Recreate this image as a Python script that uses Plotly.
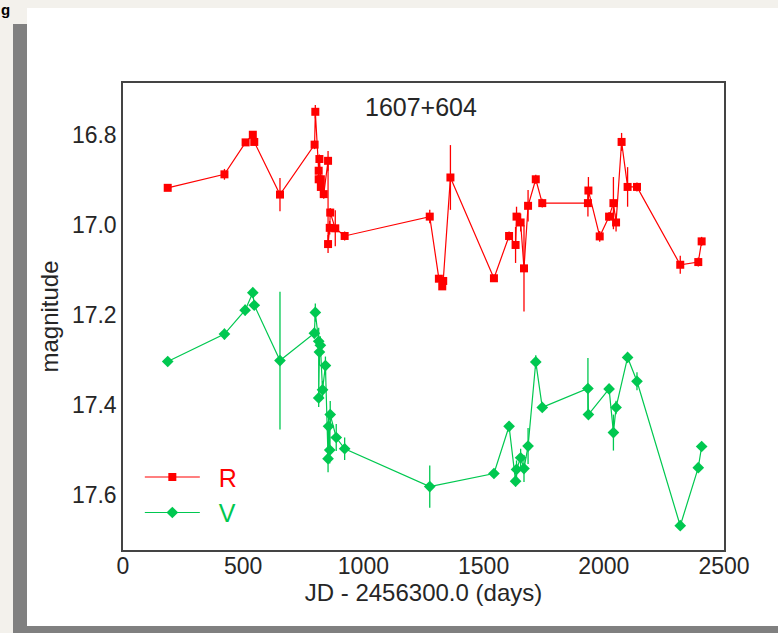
import plotly.graph_objects as go

# R band
r_days = [186, 422, 510, 540, 546, 653, 797, 800, 814, 814, 817, 823, 823, 835, 853, 853,
          860, 862, 883, 922, 1276, 1314, 1328, 1332, 1362, 1543, 1606, 1633, 1637, 1654,
          1668, 1685, 1717, 1744, 1934, 1936, 1983, 2022, 2040, 2051, 2074, 2099, 2138,
          2318, 2393, 2407]
r_mag = [16.917, 16.887, 16.816, 16.799, 16.815, 16.932, 16.821, 16.748, 16.879, 16.898,
         16.853, 16.898, 16.915, 16.931, 16.857, 17.042, 17.006, 16.972, 17.007, 17.024,
         16.981, 17.119, 17.136, 17.124, 16.894, 17.118, 17.024, 17.044, 16.981, 16.994,
         17.096, 16.957, 16.898, 16.951, 16.951, 16.923, 17.025, 16.981, 16.951, 16.994,
         16.815, 16.915, 16.915, 17.088, 17.082, 17.036]
r_err = [0.005, 0.012, 0.006, 0.006, 0.006, 0.037, 0.010, 0.015, 0.012, 0.010,
         0.010, 0.008, 0.010, 0.010, 0.022, 0.020, 0.015, 0.010, 0.040, 0.010,
         0.015, 0.008, 0.008, 0.008, 0.072, 0.008, 0.010, 0.040, 0.022, 0.020,
         0.096, 0.035, 0.010, 0.010, 0.030, 0.030, 0.012, 0.010, 0.058, 0.020,
         0.020, 0.044, 0.010, 0.020, 0.010, 0.010]

# V band
v_days = [186, 422, 508, 540, 546, 653, 796, 800, 814, 814, 817, 821, 830, 842, 853, 855,
          860, 862, 887, 922, 1276, 1543, 1606, 1633, 1637, 1654, 1668, 1685, 1717, 1744,
          1934, 1936, 2022, 2040, 2051, 2099, 2138, 2318, 2393, 2407]
v_mag = [17.303, 17.242, 17.189, 17.150, 17.178, 17.301, 17.240, 17.194, 17.258, 17.384,
         17.282, 17.267, 17.366, 17.312, 17.519, 17.447, 17.500, 17.421, 17.472, 17.497,
         17.581, 17.552, 17.447, 17.569, 17.543, 17.517, 17.541, 17.491, 17.304, 17.405,
         17.363, 17.421, 17.364, 17.461, 17.405, 17.294, 17.347, 17.668, 17.539, 17.492]
v_err = [0.006, 0.012, 0.012, 0.006, 0.008, 0.153, 0.012, 0.020, 0.030, 0.020,
         0.030, 0.020, 0.020, 0.020, 0.030, 0.020, 0.030, 0.030, 0.030, 0.025,
         0.047, 0.006, 0.010, 0.012, 0.020, 0.020, 0.030, 0.040, 0.015, 0.010,
         0.068, 0.010, 0.010, 0.040, 0.015, 0.010, 0.020, 0.006, 0.010, 0.008]

x_ticks = [0, 500, 1000, 1500, 2000, 2500]
y_ticks = [16.8, 17.0, 17.2, 17.4, 17.6]

RED = "#ff0000"
GREEN = "#00c850"
FONT = "Liberation Sans, Arial, sans-serif"

W, H = 778, 633
ML, MR, MT, MB = 123, 54, 83, 83
PW, PH = W - ML - MR, H - MT - MB


def px(x):
    return (x - ML) / PW


def py(y):
    return (H - MB - y) / PH


fig = go.Figure()
fig.add_trace(go.Scatter(
    x=r_days, y=r_mag, mode="lines+markers",
    name="<span style='color:#ff0000'>&nbsp;&nbsp;R</span>",
    line=dict(color=RED, width=1.2),
    marker=dict(symbol="square", size=8, color=RED),
    error_y=dict(type="data", array=r_err, color=RED, thickness=1.3, width=0),
))
fig.add_trace(go.Scatter(
    x=v_days, y=v_mag, mode="lines+markers",
    name="<span style='color:#00c850'>&nbsp;&nbsp;V</span>",
    line=dict(color=GREEN, width=1.2),
    marker=dict(symbol="diamond", size=9, color=GREEN),
    error_y=dict(type="data", array=v_err, color=GREEN, thickness=1.3, width=0),
))

shapes = [
    dict(type="rect", xref="paper", yref="paper", layer="below",
         x0=px(13), x1=px(790), y0=py(24), y1=py(640),
         fillcolor="#808080", line=dict(width=0)),
    dict(type="rect", xref="paper", yref="paper", layer="below",
         x0=px(27), x1=px(790), y0=py(8), y1=py(626),
         fillcolor="#ffffff", line=dict(width=0)),
]

fig.update_layout(
    width=W, height=H,
    margin=dict(l=ML, r=MR, t=MT, b=MB),
    paper_bgcolor="#f3f1ec",
    plot_bgcolor="#ffffff",
    font=dict(family=FONT, size=23, color="#262626"),
    shapes=shapes,
    showlegend=True,
    legend=dict(x=0.028, y=0.205, xanchor="left", yanchor="top",
                bgcolor="rgba(0,0,0,0)", font=dict(size=25),
                itemwidth=55, tracegroupgap=0),
    annotations=[
        dict(text="1607+604", xref="paper", yref="paper",
             x=px(421), y=py(107), xanchor="center", yanchor="middle",
             showarrow=False, font=dict(size=25, color="#262626")),
        dict(text="<b>g</b>", xref="paper", yref="paper",
             x=px(0), y=py(0), xanchor="left", yanchor="top",
             showarrow=False, borderpad=0, font=dict(size=15, color="#000000")),
    ],
)
fig.update_xaxes(
    range=[0, 2500], tickvals=x_ticks, ticktext=[str(v) for v in x_ticks],
    showgrid=False, zeroline=False, showline=True, mirror=True,
    linecolor="#444444", linewidth=1.5, ticks="", ticklabelstandoff=-5,
    title=dict(text="JD - 2456300.0 (days)", font=dict(size=24), standoff=2),
)
fig.update_yaxes(
    range=[17.722, 16.684], tickvals=y_ticks, ticktext=[f"{v:.1f}" for v in y_ticks],
    showgrid=False, zeroline=False, showline=True, mirror=True,
    linecolor="#444444", linewidth=1.5, ticks="",
    title=dict(text="magnitude", font=dict(size=24), standoff=6),
)

fig.write_html("out.html")
